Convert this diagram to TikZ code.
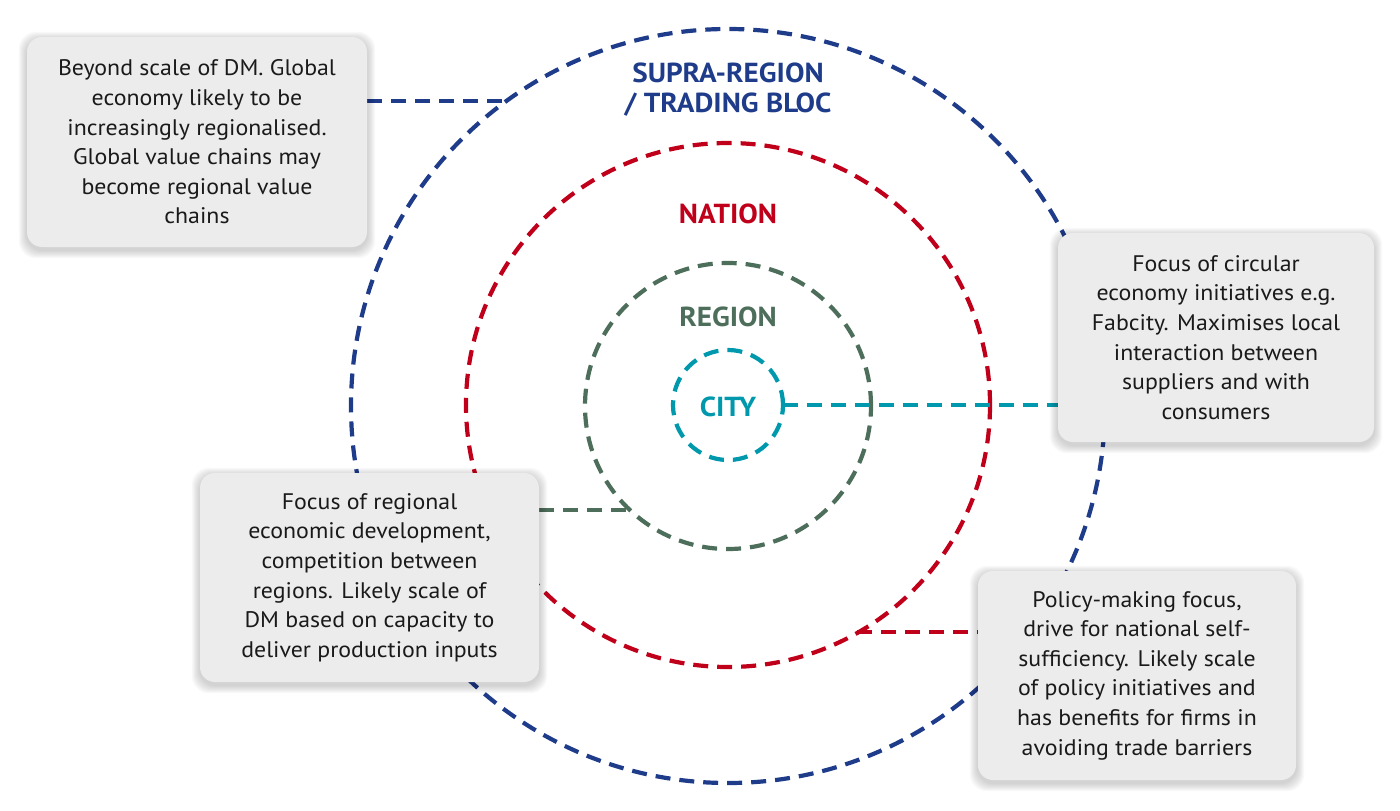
\documentclass[tikz,border=0pt]{standalone}
\usepackage{fontspec}
\setmainfont{PT Sans}[FakeStretch=1.06]
\pgfdeclarelayer{bg}
\pgfdeclarelayer{shadow}
\pgfsetlayers{bg,shadow,main}
\definecolor{cblue}{HTML}{1E3C8A}
\definecolor{cred}{HTML}{C0001A}
\definecolor{cgreen}{HTML}{4D6E5A}
\definecolor{cteal}{HTML}{0098AC}
\definecolor{boxfill}{HTML}{ECECEC}
\definecolor{txt}{HTML}{1A1A1A}
\begin{document}
\begin{tikzpicture}[x=1pt,y=-1pt,
  dashline/.style={line width=4.2pt, dash pattern=on 15pt off 9pt},
  ring/.style={circle, draw, dashline, inner sep=0pt, outer sep=0pt},
  infobox/.style={rectangle, rounded corners=15pt, fill=boxfill, text=txt, align=center,
    font=\fontsize{22.5}{29.6}\selectfont, inner sep=0pt},
  lbl/.style={font=\fontsize{27.5}{30}\selectfont\bfseries, align=center},
]
\useasboundingbox (0,0) rectangle (1400,811);

% boxes
\node[infobox, minimum width=340pt, minimum height=210pt] (tlbox) at (197,142)
  {Beyond scale of DM. Global\\economy likely to be\\increasingly regionalised.\\Global value chains may\\become regional value\\chains};
\node[infobox, minimum width=316pt, minimum height=209pt] (rbox) at (1216,337.5)
  {Focus of circular\\economy initiatives e.g.\\Fabcity. Maximises local\\interaction between\\suppliers and with\\consumers};
\node[infobox, minimum width=339pt, minimum height=209pt] (blbox) at (369.5,577.5)
  {Focus of regional\\economic development,\\competition between\\regions. Likely scale of\\DM based on capacity to\\deliver production inputs};
\node[infobox, minimum width=318pt, minimum height=209pt] (brbox) at (1137,675.5)
  {Policy-making focus,\\drive for national self-\\sufficiency. Likely scale\\of policy initiatives and\\has benefits for firms in\\avoiding trade barriers};

% shadows
\begin{pgfonlayer}{shadow}
\foreach \b in {tlbox,rbox,blbox,brbox}{
  \foreach \i in {1,...,8}{
    \fill[black, opacity=0.025, rounded corners=17pt]
      ([shift={(-\i,-\i+3)}]\b.north west) rectangle ([shift={(\i,\i+3)}]\b.south east);
  }
}
\end{pgfonlayer}

% rings, labels, connectors
\begin{pgfonlayer}{bg}
\node[ring, cblue, minimum size=754pt] (supra) at (728,406) {};
\node[ring, cred, minimum size=524pt] (nation) at (728,405) {};
\node[ring, cgreen, minimum size=286pt] (region) at (728,406) {};
\node[ring, cteal, minimum size=110pt] (city) at (728,405) {};

\node[lbl, text=cblue] (supraLbl) at (728,90) {SUPRA-REGION\\/ TRADING BLOC};
\node[lbl, text=cred] (nationLbl) at (728,214) {NATION};
\node[lbl, text=cgreen] (regionLbl) at (728,317) {REGION};
\node[lbl, text=cteal] (cityLbl) at (728,407) {CITY};

\coordinate (supraHit) at (503,101);
\coordinate (regionHit) at (628,510);
\coordinate (nationHit) at (857,632);
\draw[dashline, cblue] (tlbox.east |- supraHit) -- (supraHit);
\draw[dashline, cteal] (city.east) -- (rbox.west |- city.east);
\draw[dashline, cgreen] (blbox.east |- regionHit) -- (regionHit);
\draw[dashline, cred] (nationHit) -- (brbox.west |- nationHit);
\end{pgfonlayer}
\end{tikzpicture}
\end{document}
